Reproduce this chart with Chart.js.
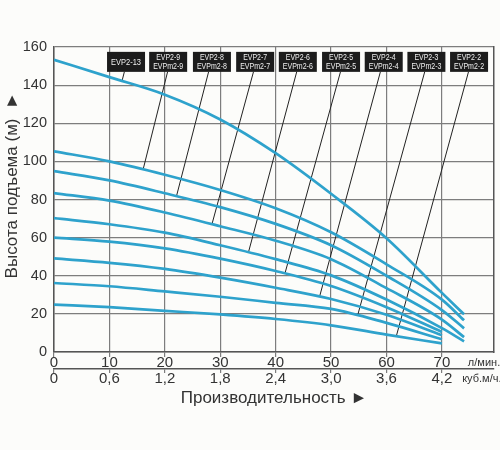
<!DOCTYPE html>
<html><head><meta charset="utf-8">
<script src="https://cdn.jsdelivr.net/npm/chart.js@4.4.1/dist/chart.umd.min.js"></script>
<style>html,body{margin:0;padding:0;background:#fcfcfa;}#wrap{width:500px;height:450px;position:relative;}</style>
</head><body><div id="wrap"><canvas id="c"></canvas></div>
<script>
// ---- data ----
const models    = ['EVP2-13','EVP2-9','EVP2-8','EVP2-7','EVP2-6','EVP2-5','EVP2-4','EVP2-3','EVP2-2'];
const subModels = ['', 'EVPm2-9','EVPm2-8','EVPm2-7','EVPm2-6','EVPm2-5','EVPm2-4','EVPm2-3','EVPm2-2'];
const flowLong  = [0,10,20,30,40,50,60,70,74];   // л/мин.
const flowShort = [0,10,20,30,40,50,60,70];
const head13 = [153.3,144.2,135,122,104.3,83,59.7,31,19.8];
const head9  = [105.3,100,93,85,75.4,62.8,46,27.5,16.6];
const head8  = [94.9,90,83.3,76,67.2,56,40,22,12.4];
const head7  = [83.4,79.4,73.2,66,58.4,48.7,33.5,17,7.8];
const head6  = [70.2,67,62.6,56,48.7,40.2,27.5,12.5,5.6];
const head5  = [60,57.9,54.4,49,42.5,34.6,23.5,10.5];
const head4  = [49.1,46.8,43.6,39,33.7,27.8,19.5,8.8];
const head3  = [36.2,34.5,31.8,29,25.8,22.6,15.3,6.7];
const head2  = [24.9,23.5,21.6,19.7,17.3,14,9.1,4.5];
const heads = [head13,head9,head8,head7,head6,head5,head4,head3,head2];
const seriesFlow = [flowLong,flowLong,flowLong,flowLong,flowLong,flowShort,flowShort,flowShort,flowShort];

const labelFlow = [13.0,20.6,28.5,36.3,44.0,51.8,59.5,67.2,74.9];
const labelHead = 152.2;
const leaderTopFlow = [12.7,20.5,27.9,36.0,43.8,51.7,58.9,66.9,74.8];
const leaderTopHead = 147;
const leaderEndFlow = [12.3,16.1,22.1,28.5,35.1,41.7,47.9,54.8,61.8];
const leaderEndHead = [142.5,96,81.7,67,52.4,41.5,28.8,19.3,8.6];

const xTicks = [0,10,20,30,40,50,60,70];
const volLabels = ['0','0,6','1,2','1,8','2,4','3,0','3,6','4,2'];
const yTicks = [0,20,40,60,80,100,120,140,160];
const unitLpmPos = 77.6, unitVolPos = 77.2;
const unitLpm = 'л/мин.', unitVol = 'куб.м/ч.';

// ---- chart ----
Chart.defaults.font.family = '"Liberation Sans", Arial, sans-serif';
const curveColor = '#2ea2cc';
const gridColor = '#7d7d7d';
const datasets = [];
models.forEach((m,i)=>{
  datasets.push({label:m, data: seriesFlow[i].map((f,j)=>({x:f,y:heads[i][j]})),
    borderColor:curveColor, borderWidth:2.7, pointRadius:0, cubicInterpolationMode:'monotone', fill:false});
});
models.forEach((m,i)=>{
  datasets.push({label:m+' leader', data:[{x:leaderTopFlow[i],y:leaderTopHead},{x:leaderEndFlow[i],y:leaderEndHead[i]}],
    borderColor:'#222', borderWidth:1, pointRadius:0, tension:0, fill:false});
});

const bg = {id:'bg', beforeDraw(chart){const c=chart.ctx;c.save();c.fillStyle='#fcfcfa';c.fillRect(0,0,chart.width,chart.height);c.restore();}};
const boxes = {id:'boxes', afterDatasetsDraw(chart){
  const {ctx, scales:{x,y}} = chart;
  ctx.save();
  models.forEach((m,i)=>{
    const cx = x.getPixelForValue(labelFlow[i]);
    const cy = y.getPixelForValue(labelHead);
    const w=38,h=20;
    ctx.fillStyle='#1c1c1c';
    ctx.fillRect(cx-w/2, cy-h/2, w, h);
    ctx.fillStyle='#f0f0f0'; ctx.textAlign='center'; ctx.textBaseline='middle';
    ctx.font='9px "Liberation Sans", Arial, sans-serif';
    if (subModels[i]) {
      ctx.fillText(m, cx, cy-4.2, 24); ctx.fillText(subModels[i], cx, cy+4.8, 30);
    } else {
      ctx.fillText(m, cx, cy+0.5, 30);
    }
  });
  ctx.restore();
}};

const isUnit = (ctx)=> ctx.tick && ctx.tick.value > 75;

new Chart(document.getElementById('c'), {
  type:'line',
  data:{datasets},
  plugins:[bg, boxes],
  options:{
    responsive:true, maintainAspectRatio:false, animation:false,
    layout:{padding:{top:47,right:6,bottom:41,left:0}},
    plugins:{legend:{display:false}, tooltip:{enabled:false}},
    scales:{
      x:{type:'linear', position:'bottom', min:0, max:79.4, weight:0,
        afterBuildTicks:(s)=>{ s.ticks = xTicks.concat([unitLpmPos]).map(v=>({value:v})); },
        afterFit:(s)=>{ s.height=17; s.paddingLeft=0; s.paddingRight=0; },
        ticks:{autoSkip:false, maxRotation:0, minRotation:0, padding:-3, color:'#333',
          font:(ctx)=> isUnit(ctx) ? {size:11, lineHeight:1.7} : {size:15, lineHeight:1.2},
          callback:(v)=> v > 75 ? unitLpm : String(v)},
        grid:{color:(ctx)=> isUnit(ctx)?'rgba(0,0,0,0)':gridColor, tickColor:(ctx)=> isUnit(ctx)?'rgba(0,0,0,0)':gridColor, tickLength:5, lineWidth:1.2},
        border:{display:true, color:'#555', width:1.5}
      },
      x2:{type:'linear', position:'bottom', min:0, max:79.4, weight:1,
        afterBuildTicks:(s)=>{ s.ticks = xTicks.concat([unitVolPos]).map(v=>({value:v})); },
        afterFit:(s)=>{ s.height=40; s.paddingLeft=0; s.paddingRight=0; },
        ticks:{autoSkip:false, maxRotation:0, minRotation:0, padding:-3, color:'#333',
          font:(ctx)=> isUnit(ctx) ? {size:11, lineHeight:1.7} : {size:15, lineHeight:1.2},
          callback:(v,i)=> i < volLabels.length ? volLabels[i] : unitVol},
        grid:{drawOnChartArea:false, color:(ctx)=> isUnit(ctx)?'rgba(0,0,0,0)':gridColor, tickColor:(ctx)=> isUnit(ctx)?'rgba(0,0,0,0)':gridColor, tickLength:4, lineWidth:1.2},
        border:{display:true, color:'#555', width:1.5},
        title:{display:true, text:'Производительность ►', color:'#333', font:{size:17}, padding:{top:0,bottom:0}}
      },
      y:{type:'linear', position:'left', min:0, max:160,
        afterBuildTicks:(s)=>{ s.ticks = yTicks.map(v=>({value:v})); },
        afterFit:(s)=>{ s.width=54; s.paddingTop=0; s.paddingBottom=0; },
        ticks:{padding:7, color:'#333', font:{size:14.5}},
        grid:{drawTicks:false, color:gridColor, lineWidth:1.2},
        border:{display:true, color:'#555', width:1.5},
        title:{display:true, text:'\u00a0\u00a0\u00a0\u00a0\u00a0\u00a0Высота подъема (м)  ►', color:'#333', font:{size:17}, padding:{top:2,bottom:0}}
      },
      y2:{type:'linear', position:'right', min:0, max:160,
        afterFit:(s)=>{ s.width=0; s.paddingTop=0; s.paddingBottom=0; },
        ticks:{display:false},
        grid:{drawOnChartArea:false, drawTicks:false},
        border:{display:true, color:'#555', width:1.5}
      }
    }
  }
});
</script></body></html>
